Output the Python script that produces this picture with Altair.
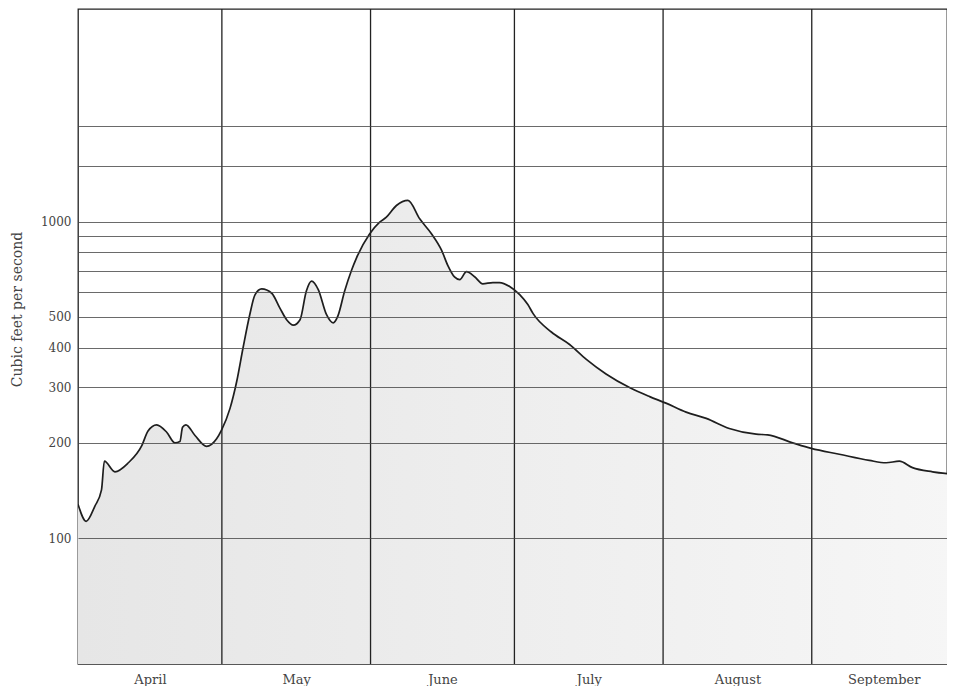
import altair as alt
import pandas as pd

# Day of season (0 = April 1) and discharge (cubic feet per second)
days = [0, 1.7, 3.5, 4.9, 5.5, 7.7, 10.5, 13.3, 14.6, 16.4, 18.5, 20.2, 21.25, 21.8, 22.5,
        24.4, 26.8, 28.9, 29.9, 31.7, 33.1, 34.4, 35.8, 36.9, 38.3, 40.4, 42.1, 43.5, 44.9,
        46.3, 47.6, 48.7, 50.1, 51.8, 53.2, 54.2, 55.6, 57, 58.1, 60.8, 62.9, 64.3, 66.4,
        68.8, 71.25, 73.7, 75.8, 77.1, 78.5, 79.6, 81, 82.7, 84.4, 86.5, 87.9, 90, 92.1,
        93.8, 94.9, 98.7, 102.5, 106, 110.1, 115, 119.2, 122.6, 126.8, 131, 135.8, 141.4,
        143.8, 149, 152.9, 158.75, 165, 168.5, 171.25, 174, 178.2, 183]
flow = [128, 113, 126, 142, 175, 162, 173, 196, 218, 228, 216, 200, 202, 224, 228,
        211, 195, 206, 219, 257, 313, 398, 507, 587, 613, 594, 533, 490, 471,
        490, 603, 649, 610, 509, 479, 504, 604, 700, 770, 914, 996, 1033, 1125,
        1168, 1021, 916, 813, 728, 669, 656, 695, 670, 636, 642, 642, 624, 588,
        547, 512, 448, 409, 367, 330, 299, 280, 267, 250, 239, 222, 213,
        212, 200, 192, 184, 176, 173, 175, 167, 162, 159]

month_names = ["April", "May", "June", "July", "August", "September"]
month_starts = [0, 30, 61, 91, 122, 153, 183]
month_mids = [15, 45.5, 76, 106.5, 137.5, 168]
x_domain = [0, 181.2]   # the right edge of the sheet cuts off the last days

y_grid = [100, 200, 300, 400, 500, 600, 700, 800, 900, 1000, 1500, 2000]
y_labels = [100, 200, 300, 400, 500, 1000]
y_domain = [40, 4700]

FONT = "DejaVu Serif"

df = pd.DataFrame({"day": days, "cfs": flow})
bounds = pd.DataFrame({"day": month_starts[1:-1]})

# month label expression built from the lists
parts = [(month_starts[i + 1], name) for i, name in enumerate(month_names)]
expr = "'" + parts[-1][1] + "'"
for end, name in reversed(parts[:-1]):
    expr = f"datum.value < {end} ? '{name}' : ({expr})"

label_list = ",".join(str(v) for v in y_labels)

x_enc = alt.X(
    "day:Q",
    scale=alt.Scale(domain=x_domain, nice=False, zero=False),
    axis=alt.Axis(
        values=month_mids, labelExpr=expr, grid=False, ticks=False, domain=False,
        title=None, labelFont=FONT, labelFontSize=13, labelColor="#444",
        labelPadding=19, labelBaseline="alphabetic",
    ),
)
y_enc = alt.Y(
    "cfs:Q",
    scale=alt.Scale(type="log", domain=y_domain, nice=False),
    axis=alt.Axis(
        values=y_grid, format="d",
        labelExpr=f"indexof([{label_list}], datum.value) >= 0 ? datum.label : ''",
        grid=True, gridColor="#444", gridWidth=0.8, ticks=False, domain=False,
        labelFont=FONT, labelFontSize=12, labelColor="#444", labelPadding=7,
        title="Cubic feet per second", titleFont=FONT, titleFontSize=14,
        titleFontWeight="normal", titleColor="#444",
        titleX=-57, titleY=300, titleAlign="center", titleBaseline="alphabetic",
        zindex=1,
    ),
)

fill = alt.Gradient(
    gradient="linear",
    stops=[alt.GradientStop(offset=0, color="#e6e6e6"),
           alt.GradientStop(offset=0.5, color="#eeeeee"),
           alt.GradientStop(offset=1, color="#f6f6f6")],
    x1=0, x2=1, y1=0, y2=0,
)

area = alt.Chart(df).mark_area(interpolate="monotone", color=fill, clip=True).encode(
    x=x_enc, y=y_enc, y2=alt.datum(y_domain[0])
)
line = alt.Chart(df).mark_line(interpolate="monotone", color="#1e1e1e", strokeWidth=1.7,
                               clip=True).encode(x="day:Q", y="cfs:Q")
rules = alt.Chart(bounds).mark_rule(color="#222", strokeWidth=1.3).encode(x="day:Q")

chart = alt.layer(area, rules, line).properties(
    width=869, height=655,
    padding={"left": 70, "top": 1, "right": 0, "bottom": 22},
    autosize=alt.AutoSizeParams(type="none"),
    background="white",
).configure_view(stroke="#222", strokeWidth=1.3)

chart.save("out.html", embed_options={"renderer": "svg", "actions": False})
